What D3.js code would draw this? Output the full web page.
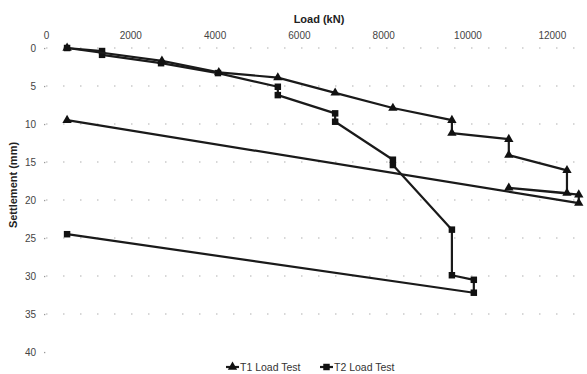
<!DOCTYPE html>
<html>
<head>
<meta charset="utf-8">
<script src="https://cdn.jsdelivr.net/npm/d3@7"></script>
<style>
  body { margin: 0; background: #fff; }
  svg { display: block; font-family: "Liberation Sans", Arial, sans-serif; }
</style>
</head>
<body>
<div id="chart"></div>
<script>
// load test data (load in kN, settlement in mm)
var t1_load   = [500, 2750, 4100, 5500, 6860, 8230, 9630, 9630, 10980, 10980, 12360, 12360, 10980, 12640, 12640, 500];
var t1_settle = [0, 1.7, 3.2, 3.9, 5.9, 7.9, 9.5, 11.2, 12.0, 14.1, 16.1, 19.1, 18.4, 19.3, 20.4, 9.5];

var t2_load   = [500, 1330, 1330, 2730, 4080, 5500, 5500, 6860, 6860, 8230, 8230, 9630, 9630, 10150, 10150, 500];
var t2_settle = [0, 0.4, 0.9, 2.0, 3.3, 5.1, 6.2, 8.6, 9.7, 14.7, 15.4, 23.9, 29.9, 30.5, 32.2, 24.5];

var series_names = ["T1 Load Test", "T2 Load Test"];
var x_ticks = [0, 2000, 4000, 6000, 8000, 10000, 12000];
var y_ticks = [0, 5, 10, 15, 20, 25, 30, 35, 40];

var width = 587;
var height = 374;
var margin = {top: 48, left: 46, bottom: 22};

var x = d3.scaleLinear()
    .domain([0, 14000])
    .range([margin.left, margin.left + 14000 * 0.04215]);
var y = d3.scaleLinear()
    .domain([0, 40])
    .range([margin.top, 352]);

var svg = d3.select("#chart")
    .append("svg")
    .attr("width", width)
    .attr("height", height);

// dotted horizontal grid
svg.append("g")
    .selectAll("line")
    .data(y_ticks.filter(function(d) { return d < 40; }))
    .enter()
    .append("line")
    .attr("x1", margin.left)
    .attr("x2", width)
    .attr("y1", function(d) { return y(d); })
    .attr("y2", function(d) { return y(d); })
    .attr("stroke", "#b0b0b0")
    .attr("stroke-width", 1.2)
    .attr("stroke-dasharray", "1.5,15.5");

// top axis (load)
var x_axis = svg.append("g")
    .attr("transform", "translate(0," + 35 + ")")
    .call(d3.axisTop(x).tickValues(x_ticks).tickSize(0).tickPadding(0).tickFormat(d3.format("d")));
x_axis.select(".domain").remove();
x_axis.selectAll("text")
    .attr("font-size", 10)
    .attr("fill", "#444")
    .attr("dy", "0.35em");

// left axis (settlement)
var y_axis = svg.append("g")
    .attr("transform", "translate(" + (margin.left - 4) + ",0)")
    .call(d3.axisLeft(y).tickValues(y_ticks).tickSize(0).tickPadding(6));
y_axis.select(".domain").remove();
y_axis.selectAll("text")
    .attr("font-size", 10)
    .attr("fill", "#444");
y_axis.selectAll(".tick")
    .append("rect")
    .attr("x", 2)
    .attr("y", -0.6)
    .attr("width", 1.3)
    .attr("height", 1.3)
    .attr("fill", "#999");

// axis titles
svg.append("text")
    .attr("x", 319)
    .attr("y", 23)
    .attr("text-anchor", "middle")
    .attr("font-size", 11)
    .attr("font-weight", "bold")
    .attr("fill", "#222")
    .text("Load (kN)");
svg.append("text")
    .attr("transform", "translate(17,185) rotate(-90)")
    .attr("text-anchor", "middle")
    .attr("font-size", 11)
    .attr("font-weight", "bold")
    .attr("fill", "#222")
    .text("Settlement (mm)");

var line = d3.line()
    .x(function(d) { return x(d[0]); })
    .y(function(d) { return y(d[1]); });

var t1 = d3.zip(t1_load, t1_settle);
var t2 = d3.zip(t2_load, t2_settle);

var tri = d3.symbol().type(d3.symbolTriangle).size(38);
var sqr = d3.symbol().type(d3.symbolSquare).size(42);

var draw_series = function(data, sym) {
    svg.append("path")
        .datum(data)
        .attr("fill", "none")
        .attr("stroke", "#1a1a1a")
        .attr("stroke-width", 2.2)
        .attr("stroke-linejoin", "round")
        .attr("d", line);
    svg.append("g")
        .selectAll("path")
        .data(data)
        .enter()
        .append("path")
        .attr("d", sym)
        .attr("fill", "#111")
        .attr("transform", function(d) { return "translate(" + x(d[0]) + "," + y(d[1]) + ")"; });
};
draw_series(t2, sqr);
draw_series(t1, tri);

// legend
var legend_x = [226, 320];
var legend_syms = [tri, sqr];
var legend = svg.append("g");
series_names.forEach(function(name, i) {
    var lx = legend_x[i];
    legend.append("line")
        .attr("x1", lx).attr("x2", lx + 13)
        .attr("y1", 367).attr("y2", 367)
        .attr("stroke", "#1a1a1a")
        .attr("stroke-width", 2.2);
    legend.append("path")
        .attr("d", legend_syms[i])
        .attr("fill", "#111")
        .attr("transform", "translate(" + (lx + 6.5) + ",367)");
    legend.append("text")
        .attr("x", lx + 14)
        .attr("y", 370.5)
        .attr("font-size", 10.5)
        .attr("fill", "#333")
        .text(name);
});
</script>
</body>
</html>
